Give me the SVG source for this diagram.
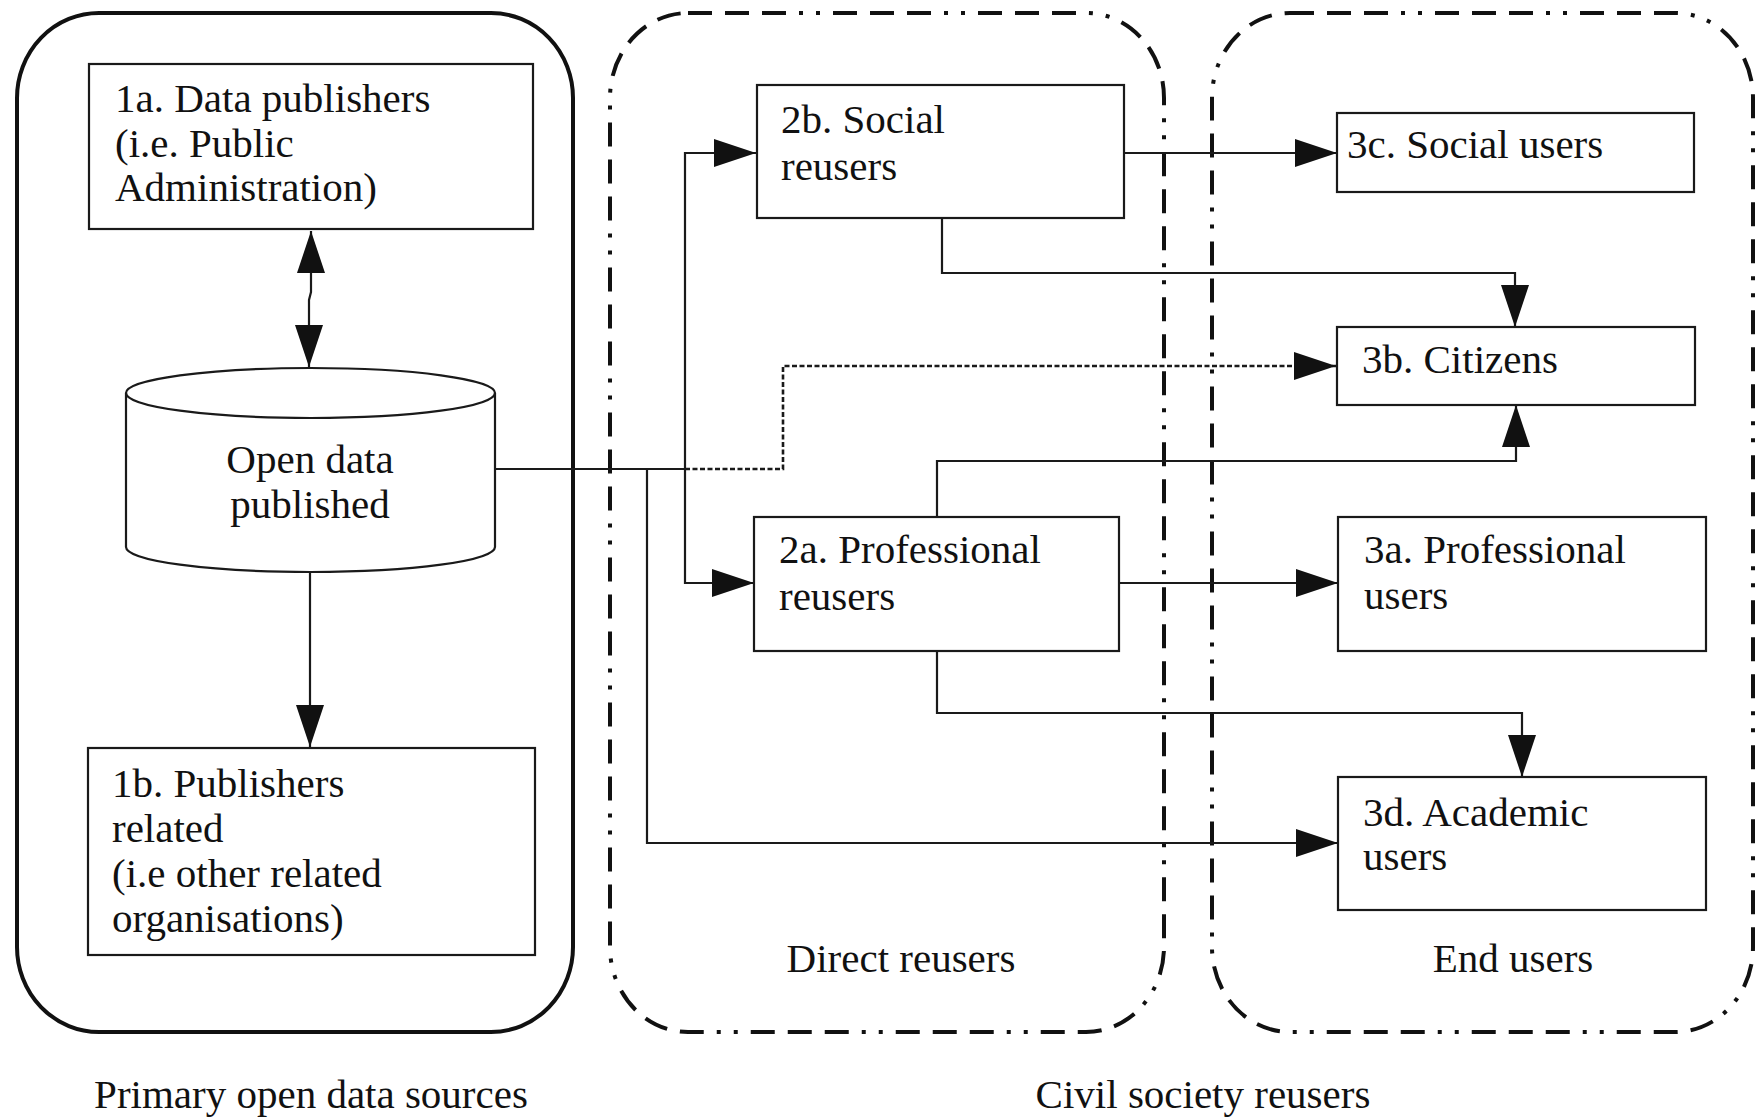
<svg xmlns="http://www.w3.org/2000/svg" width="1755" height="1119" viewBox="0 0 1755 1119">
<style>
.bg{fill:#fff}
.node{fill:#fff;stroke:#1a1a1a;stroke-width:2.2}
.txt{font-family:"Liberation Serif","Times New Roman",serif;font-size:41px;fill:#111}
.mid{text-anchor:middle}
.solid{fill:none;stroke:#111;stroke-width:4}
.dashdot{fill:none;stroke:#111;stroke-width:4;stroke-dasharray:24 13 24 13 24 13 4 13 4 13}
.conn{fill:none;stroke:#1a1a1a;stroke-width:2.2}
.arr{marker-end:url(#ah)}
.dot{stroke-width:2.6;stroke-dasharray:5 2.5}
</style>
<defs>
<marker id="ah" viewBox="0 0 42 28" refX="42" refY="14" markerWidth="42" markerHeight="28" markerUnits="userSpaceOnUse" orient="auto-start-reverse">
<path d="M0,0 L42,14 L0,28 Z" fill="#111"/>
</marker>
</defs>
<rect class="bg" x="0" y="0" width="1755" height="1119"/>

<g id="containers">
<rect id="primary-sources" class="solid" x="17" y="13" width="556" height="1019" rx="82" ry="85"/>
<rect id="direct-reusers" class="dashdot" x="610" y="13" width="554" height="1019" rx="78" ry="85"/>
<rect id="end-users" class="dashdot" x="1212" y="13" width="541" height="1019" rx="78" ry="85"/>
</g>

<g id="connectors">
<path class="conn" d="M311,231 L311,292 L309,300 L309,367" marker-start="url(#ah)" marker-end="url(#ah)"/>
<path class="conn arr" d="M310,572 L310,747"/>
<path class="conn" d="M495,469 L685,469"/>
<path class="conn arr" d="M685,469 L685,153 L756,153"/>
<path class="conn arr" d="M685,469 L685,583 L754,583"/>
<path class="conn arr" d="M647,469 L647,843 L1338,843"/>
<path class="conn dot arr" d="M685,469 L783,469 L783,366 L1336,366"/>
<path class="conn arr" d="M1124,153 L1337,153"/>
<path class="conn arr" d="M942,218 L942,273 L1515,273 L1515,327"/>
<path class="conn arr" d="M937,517 L937,461 L1516,461 L1516,405"/>
<path class="conn arr" d="M1119,583 L1338,583"/>
<path class="conn arr" d="M937,651 L937,713 L1522,713 L1522,777"/>
</g>

<g id="node-1a">
<rect class="node" x="89" y="64" width="444" height="165"/>
<text class="txt" x="115" y="112">1a. Data publishers</text>
<text class="txt" x="115" y="157">(i.e. Public</text>
<text class="txt" x="115" y="201">Administration)</text>
</g>

<g id="node-open-data">
<path class="node" d="M126,393 L126,547 A184.5,25 0 0 0 495,547 L495,393 A184.5,25 0 0 0 126,393 Z"/>
<path class="node" style="fill:none" d="M126,393 A184.5,25 0 0 0 495,393"/>
<text class="txt mid" x="310" y="473">Open data</text>
<text class="txt mid" x="310" y="518">published</text>
</g>

<g id="node-1b">
<rect class="node" x="88" y="748" width="447" height="207"/>
<text class="txt" x="112" y="797">1b. Publishers</text>
<text class="txt" x="112" y="842">related</text>
<text class="txt" x="112" y="887">(i.e other related</text>
<text class="txt" x="112" y="932">organisations)</text>
</g>

<g id="node-2b">
<rect class="node" x="757" y="85" width="367" height="133"/>
<text class="txt" x="781" y="133">2b. Social</text>
<text class="txt" x="781" y="180">reusers</text>
</g>

<g id="node-2a">
<rect class="node" x="754" y="517" width="365" height="134"/>
<text class="txt" x="779" y="563">2a. Professional</text>
<text class="txt" x="779" y="610">reusers</text>
</g>

<g id="node-3c">
<rect class="node" x="1337" y="113" width="357" height="79"/>
<text class="txt" x="1347" y="158">3c. Social users</text>
</g>

<g id="node-3b">
<rect class="node" x="1337" y="327" width="358" height="78"/>
<text class="txt" x="1362" y="373">3b. Citizens</text>
</g>

<g id="node-3a">
<rect class="node" x="1338" y="517" width="368" height="134"/>
<text class="txt" x="1364" y="563">3a. Professional</text>
<text class="txt" x="1364" y="609">users</text>
</g>

<g id="node-3d">
<rect class="node" x="1338" y="777" width="368" height="133"/>
<text class="txt" x="1363" y="826">3d. Academic</text>
<text class="txt" x="1363" y="870">users</text>
</g>

<g id="labels">
<text class="txt mid" x="901" y="972">Direct reusers</text>
<text class="txt mid" x="1513" y="972">End users</text>
<text class="txt mid" x="311" y="1108">Primary open data sources</text>
<text class="txt mid" x="1203" y="1108">Civil society reusers</text>
</g>
</svg>
